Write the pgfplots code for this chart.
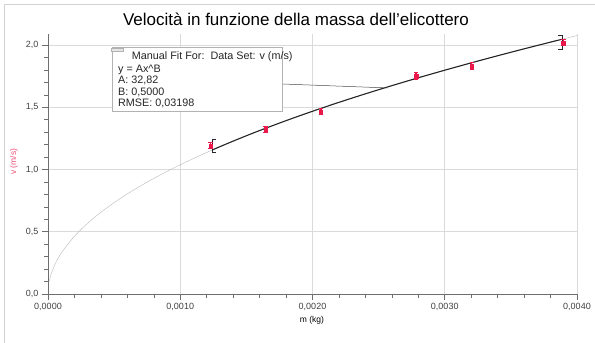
\documentclass[border=0pt]{standalone}
\usepackage{fontspec}
\setmainfont{Liberation Sans}
\usepackage{pgfplots}
\pgfplotsset{compat=1.18}
\definecolor{ptred}{RGB}{235,25,75}
\definecolor{labpink}{RGB}{240,80,120}
\definecolor{axgray}{RGB}{110,110,110}
\definecolor{gridgray}{RGB}{218,218,218}
\begin{document}
\begin{tikzpicture}
\useasboundingbox (-48pt,-49pt) rectangle (547pt,294pt);
\draw[gray!35, line width=0.7pt] (-44pt,-49pt) -- (-44pt,290pt) -- (547pt,290pt);
\begin{axis}[
  at={(0pt,0pt)}, anchor=south west, scale only axis,
  width=529pt, height=260.2pt,
  xmin=0, xmax=0.004, ymin=0, ymax=2.09,
  axis lines=left, axis line style={axgray, line width=0.6pt, -},
  xtick={0,0.001,0.002,0.003,0.004},
  xticklabels={{0,0000},{0,0010},{0,0020},{0,0030},{0,0040}},
  ytick={0,0.5,1,1.5,2},
  yticklabels={{0,0},{0,5},{1,0},{1,5},{2,0}},
  scaled x ticks=false, scaled y ticks=false,
  minor x tick num=4, minor y tick num=4,
  tick align=outside, major tick length=6pt, minor tick length=3.5pt,
  tick style={axgray, line width=0.6pt},
  grid=major, major grid style={gridgray, line width=0.6pt},
  ticklabel style={font=\fontsize{9}{10}\selectfont, text=black!75},
  xlabel={m (kg)}, ylabel={v (m/s)},
  xlabel style={font=\fontsize{8.5}{9}\selectfont, at={(axis description cs:0.499,-0.1)}, anchor=center},
  ylabel style={font=\fontsize{8.5}{9}\selectfont, text=labpink, at={(axis description cs:-0.0643,0.508)}, anchor=center},
  clip=true,
]
% full fit curve (thin grey)
\addplot[gray!55, line width=0.4pt, smooth] coordinates {
(0.00001,0.1038) (0.00002,0.1468) (0.00005,0.2321) (0.0001,0.3282) (0.0002,0.4641)
(0.0003,0.5685) (0.0004,0.6564) (0.0005,0.7339) (0.0006,0.8039) (0.0007,0.8683)
(0.0008,0.9283) (0.0009,0.9846) (0.001,1.0379) (0.0011,1.0885) (0.0012,1.1369)
(0.0013,1.1833) (0.0014,1.2280) (0.0015,1.2711) (0.0016,1.3128) (0.0018,1.3924)
(0.002,1.4678) (0.0022,1.5394) (0.0024,1.6078) (0.0026,1.6735) (0.0028,1.7367)
(0.003,1.7976) (0.0032,1.8566) (0.0034,1.9137) (0.0036,1.9692) (0.0038,2.0232)
(0.0039,2.0496) (0.004,2.0757)};
% fitted range (thick black)
\addplot[black!85, line width=1.1pt, smooth] coordinates {
(0.00124,1.1557) (0.0013,1.1833) (0.0014,1.2280) (0.0015,1.2711) (0.0016,1.3128)
(0.0018,1.3924) (0.002,1.4678) (0.0022,1.5394) (0.0024,1.6078) (0.0026,1.6735)
(0.0028,1.7367) (0.003,1.7976) (0.0032,1.8566) (0.0034,1.9137) (0.0036,1.9692)
(0.0038,2.0232) (0.00389,2.0470)};
% range brackets
\addplot[black!85, line width=0.9pt] coordinates {(0.00127,1.245) (0.00124,1.245) (0.00124,1.14) (0.00127,1.14)};
\addplot[black!85, line width=0.9pt] coordinates {(0.00386,2.075) (0.00389,2.075) (0.00389,1.968) (0.00386,1.968)};
% data
\addplot[only marks, mark=square*, mark size=1.7pt, ptred,
  error bars/.cd, y dir=both, y explicit,
  error bar style={ptred, line width=1.2pt},
  error mark options={ptred, line width=1pt, mark size=2.2pt, rotate=90}]
  coordinates {
  (0.00123,1.191) +- (0,0.025)
  (0.001646,1.323) +- (0,0.025)
  (0.002064,1.464) +- (0,0.025)
  (0.002783,1.751) +- (0,0.025)
  (0.003204,1.831) +- (0,0.025)
  (0.003897,2.019) +- (0,0.025)
};
% annotation box
\draw[black!70, line width=0.5pt] (axis cs:0.001769,1.687) -- (axis cs:0.002571,1.655);
\draw[fill=white, draw=gray!60, line width=0.6pt] (axis cs:0.000484,1.984) rectangle (axis cs:0.001769,1.470);
\draw[fill=gray!20, draw=gray!60, line width=0.4pt] (axis cs:0.000478,1.976) rectangle (axis cs:0.000568,1.948);
\begin{scope}[every node/.style={font=\fontsize{10.8}{12}\selectfont, anchor=base west, inner sep=0pt, text=black!85}]
\node at (axis cs:0.000633,1.880) {Manual Fit For:\ \ Data Set: v (m/s)};
\node at (axis cs:0.000529,1.781) {y = Ax\^{}B};
\node at (axis cs:0.000529,1.687) {A: 32,82};
\node at (axis cs:0.000529,1.598) {B: 0,5000};
\node at (axis cs:0.000529,1.510) {RMSE: 0,03198};
\end{scope}
\end{axis}
\node[font=\fontsize{17}{19}\selectfont] at (248pt,275pt) {Velocità in funzione della massa dell'elicottero};
\end{tikzpicture}
\end{document}
